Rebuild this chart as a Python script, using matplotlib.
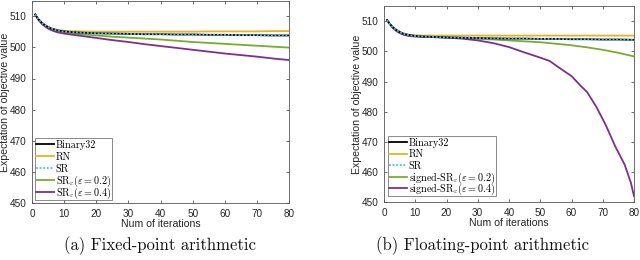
import matplotlib
matplotlib.use("Agg")
import matplotlib.pyplot as plt
from matplotlib.offsetbox import TextArea
from matplotlib.transforms import Bbox

plt.rcParams['mathtext.fontset'] = 'cm'
plt.rcParams['font.family'] = ['Liberation Sans', 'DejaVu Sans']

# ---- data -----------------------------------------------------------------
iters = [1, 2, 3, 4, 5, 6, 7, 8, 10, 12, 15, 20, 25, 30, 35, 40, 45, 50, 55, 60, 65, 70, 75, 80]

# (a) fixed-point
a_binary32 = [510.5, 509.0, 507.9, 507.1, 506.5, 506.0, 505.7, 505.4, 505.1, 504.9, 504.7, 504.5,
              504.4, 504.3, 504.2, 504.2, 504.1, 504.1, 504.0, 504.0, 503.9, 503.9, 503.8, 503.8]
a_rn = [510.5, 509.0, 508.0, 507.2, 506.6, 506.1, 505.8, 505.6, 505.3, 505.2, 505.1, 505.0,
        505.0, 505.0, 505.0, 505.0, 505.0, 505.0, 505.1, 505.1, 505.1, 505.1, 505.2, 505.2]
a_sr = [510.5, 509.0, 507.9, 507.1, 506.5, 506.0, 505.6, 505.4, 505.0, 504.9, 504.7, 504.5,
        504.4, 504.3, 504.2, 504.2, 504.1, 504.1, 504.0, 504.0, 503.9, 503.9, 503.8, 503.8]
a_sre02 = [510.5, 508.9, 507.8, 506.9, 506.3, 505.8, 505.4, 505.1, 504.7, 504.4, 504.2, 503.8,
           503.4, 503.1, 502.8, 502.5, 502.1, 501.7, 501.4, 501.1, 500.8, 500.5, 500.2, 499.9]
a_sre04 = [510.5, 508.8, 507.6, 506.7, 506.0, 505.5, 505.1, 504.8, 504.4, 504.1, 503.7, 503.0,
           502.3, 501.7, 501.0, 500.4, 499.8, 499.2, 498.6, 498.0, 497.5, 497.0, 496.4, 495.9]

# (b) floating-point
b_binary32 = [510.3, 508.9, 507.8, 507.0, 506.4, 505.9, 505.6, 505.4, 505.1, 504.9, 504.8, 504.6,
              504.5, 504.4, 504.3, 504.2, 504.2, 504.1, 504.1, 504.0, 504.0, 503.9, 503.9, 503.8]
b_rn = [510.3, 508.9, 507.9, 507.1, 506.5, 506.0, 505.7, 505.5, 505.3, 505.2, 505.2, 505.2,
        505.2, 505.2, 505.2, 505.2, 505.2, 505.2, 505.2, 505.2, 505.2, 505.2, 505.2, 505.2]
b_sr = [510.3, 508.9, 507.8, 507.0, 506.4, 505.9, 505.6, 505.3, 505.1, 504.9, 504.8, 504.6,
        504.5, 504.4, 504.3, 504.2, 504.2, 504.1, 504.1, 504.0, 504.0, 503.9, 503.9, 503.8]
b_sre02 = [510.3, 508.8, 507.7, 506.9, 506.2, 505.7, 505.4, 505.2, 505.0, 504.9, 504.8, 504.6,
           504.4, 504.1, 503.9, 503.6, 503.3, 503.0, 502.5, 502.0, 501.3, 500.5, 499.5, 498.3]
iters_b04 = [1, 2, 3, 4, 5, 6, 7, 8, 10, 12, 15, 20, 25, 30, 35, 40, 45, 50, 53, 56, 60, 63, 65,
             68, 71, 74, 77, 79, 80]
b_sre04 = [510.3, 508.8, 507.6, 506.7, 506.1, 505.6, 505.3, 505.1, 504.9, 504.8, 504.7, 504.5,
           504.2, 503.6, 502.7, 501.4, 499.6, 497.9, 496.8, 494.6, 491.8, 488.5, 486.5,
           481.5, 475.5, 468.5, 462.5, 456.5, 452.0]

xticks = [0, 10, 20, 30, 40, 50, 60, 70, 80]
yticks = [450, 460, 470, 480, 490, 500, 510]

labels_a = ['Binary32', 'RN', 'SR', r'SR$_\varepsilon$($\varepsilon=0.2$)', r'SR$_\varepsilon$($\varepsilon=0.4$)']
labels_b = ['Binary32', 'RN', 'SR', r'signed-SR$_\varepsilon$($\varepsilon=0.2$)',
            r'signed-SR$_\varepsilon$($\varepsilon=0.4$)']

# ---- style ----------------------------------------------------------------
C_BLACK = '#000000'
C_RN = '#EDB120'
C_SR = '#4DBEEE'
C_G = '#77AC30'
C_P = '#7E2F8E'
AX_COL = '#555555'
TXT_COL = '#262626'

fig = plt.figure(figsize=(6.4, 2.6), dpi=100)
ax1 = fig.add_axes([32 / 640, 1 - 203.3 / 260, (289.3 - 32) / 640, (203.3 - 0.5) / 260])
ax2 = fig.add_axes([384 / 640, 1 - 202.3 / 260, (634 - 384) / 640, (202.3 - 6) / 260])


def uniform_rows(leg, above_px, below_px):
    """Give every legend text row the same height (plain and mathtext rows)."""
    for col in leg._legend_handle_box.get_children():
        for row in col.get_children():
            for child in row.get_children():
                if isinstance(child, TextArea):
                    orig = child.get_bbox

                    def gb(renderer, orig=orig):
                        bb = orig(renderer)
                        return Bbox.from_bounds(bb.x0, -below_px, bb.width, above_px + below_px)
                    child.get_bbox = gb


def draw(ax, x, b32, rn, sr, g, xp, p, labels, ylab_x, xlab_y, leg_anchor, pitch):
    lw = 1.3
    ax.plot(x, b32, color=C_BLACK, lw=lw, label=labels[0], zorder=3)
    ax.plot(x, rn, color=C_RN, lw=lw, label=labels[1], zorder=2)
    ax.plot(x, sr, color=C_SR, lw=lw, ls=(0, (1, 1)), label=labels[2], zorder=4)
    ax.plot(x, g, color=C_G, lw=lw, label=labels[3], zorder=2)
    ax.plot(xp, p, color=C_P, lw=lw, label=labels[4], zorder=2)
    ax.set_xlim(0, 80)
    ax.set_ylim(450, 515)
    ax.set_xticks(xticks)
    ax.set_yticks(yticks)
    ax.tick_params(direction='in', top=True, right=True, length=2.5, width=0.6,
                   colors=AX_COL, labelcolor=TXT_COL, labelsize=7.2)
    ax.tick_params(axis='y', pad=4.2)
    ax.tick_params(axis='x', pad=4.0)
    for s in ax.spines.values():
        s.set_color(AX_COL)
        s.set_linewidth(0.6)
    xl = ax.set_xlabel('Num of iterations', fontsize=7.6, color=TXT_COL)
    yl = ax.set_ylabel('Expectation of objective value', fontsize=7.6, color=TXT_COL)
    yl.set_va('center')
    xl.set_va('center')
    ax.yaxis.set_label_coords(ylab_x, 0.5)
    ax.xaxis.set_label_coords(0.5, xlab_y)
    leg = ax.legend(loc='lower left', bbox_to_anchor=leg_anchor, prop={'family': 'cmr10', 'size': 7.3},
                    frameon=True, fancybox=False, edgecolor=AX_COL, handlelength=1.8,
                    handletextpad=0.15, borderpad=0.12, labelspacing=0.0,
                    borderaxespad=0.0)
    leg.get_frame().set_linewidth(0.6)
    uniform_rows(leg, pitch * 0.73, pitch * 0.27)


draw(ax1, iters, a_binary32, a_rn, a_sr, a_sre02, iters, a_sre04, labels_a,
     (5.0 - 32) / 257.3, -(224 - 203.3) / 202.8, (2.7 / 257.3, 3.3 / 202.8), 12.0)
draw(ax2, iters, b_binary32, b_rn, b_sr, b_sre02, iters_b04, b_sre04, labels_b,
     (357.5 - 384) / 250, -(222.5 - 202.3) / 196.3, (3.7 / 250, 6.0 / 196.3), 11.5)

fig.text(160 / 640, 1 - 246 / 260, '(a) Fixed-point arithmetic', family='cmr10', fontsize=12,
         ha='center', va='center', color='#111111')
fig.text(482 / 640, 1 - 246 / 260, '(b) Floating-point arithmetic', family='cmr10', fontsize=12,
         ha='center', va='center', color='#111111')

fig.savefig('out.png', dpi=100)
